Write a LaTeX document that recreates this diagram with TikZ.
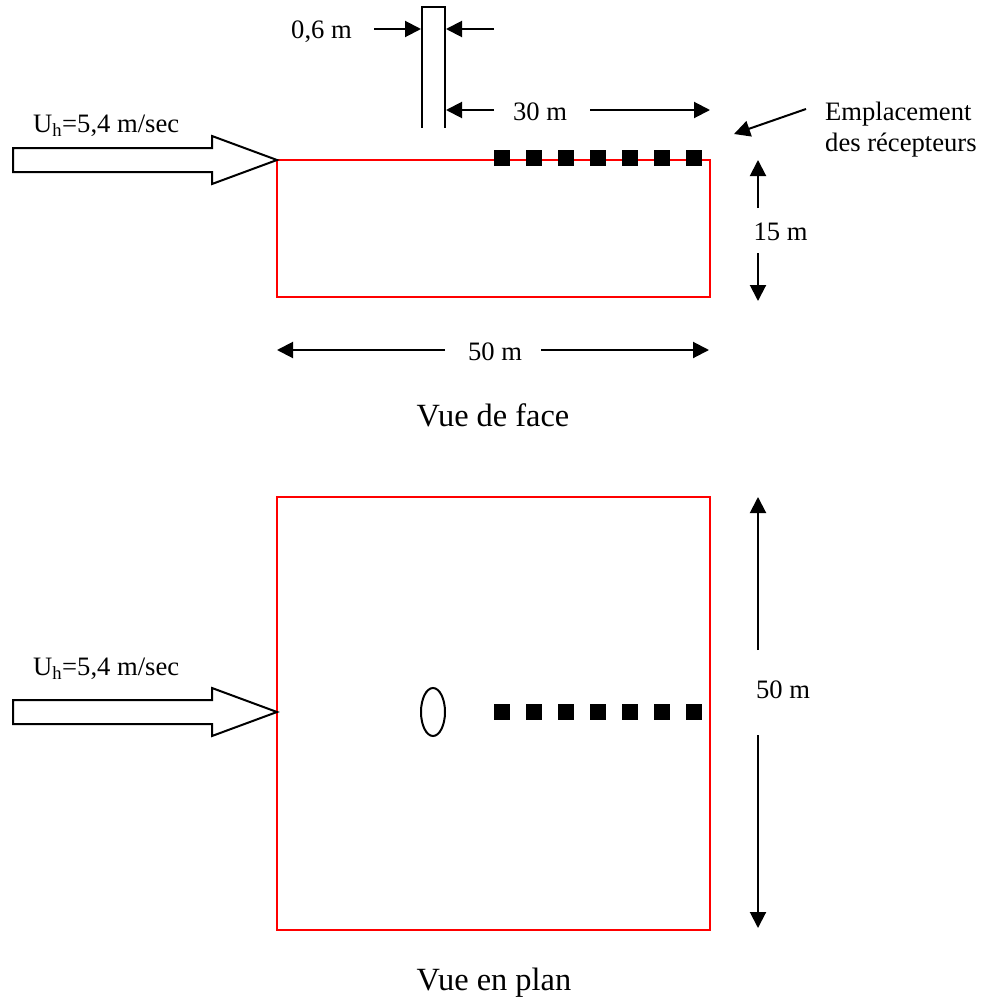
\documentclass[tikz,border=0pt]{standalone}
\usepackage{fontspec}
\setmainfont{Liberation Serif}
\usetikzlibrary{arrows.meta,shapes.geometric}
\tikzset{
  x=1pt,y=-1pt,
  lbl/.style={inner sep=0pt,anchor=base,font=\fontsize{26.6}{30}\selectfont},
  lbll/.style={inner sep=0pt,anchor=base west,font=\fontsize{26.6}{30}\selectfont},
  title/.style={inner sep=0pt,anchor=base,font=\fontsize{32.4}{36}\selectfont},
  dim/.style={draw=black,line width=2pt,-{Triangle[length=16pt,width=16pt]},shorten >=0pt},
  zone/.style={draw=red,line width=2pt},
  outline/.style={draw=black,line width=2pt},
  recv/.style={fill=black,minimum size=16pt,inner sep=0pt,draw=none,rectangle},
  pole/.style={draw=black,line width=2pt,ellipse,minimum width=24pt,minimum height=48pt,inner sep=0pt}
}
\newcommand{\flowarrow}[1]{%
  \draw[outline,line join=miter] (13,#1-12) -- (212,#1-12) -- (212,#1-24) -- (277,#1) -- (212,#1+24) -- (212,#1+12) -- (13,#1+12) -- cycle;}
\begin{document}
\begin{tikzpicture}
\useasboundingbox (0,0) rectangle (982,1001);
% coordinates
\coordinate (a1) at (374,29); \coordinate (a2) at (421,29);
\coordinate (b1) at (494,29); \coordinate (b2) at (446,29);
\coordinate (c1) at (494,110); \coordinate (c2) at (446,110);
\coordinate (d1) at (590,110); \coordinate (d2) at (710,110);
\coordinate (e1) at (806,109); \coordinate (e2) at (734,134);
\coordinate (f1) at (758,208); \coordinate (f2) at (758,160);
\coordinate (g1) at (758,253); \coordinate (g2) at (758,301);
\coordinate (h1) at (445,350); \coordinate (h2) at (277,350);
\coordinate (i1) at (541,350); \coordinate (i2) at (709,350);
\coordinate (j1) at (758,650); \coordinate (j2) at (758,497);
\coordinate (k1) at (758,735); \coordinate (k2) at (758,928);
% zones
\draw[zone] (277,160) rectangle (710,297);
\draw[zone] (277,497) rectangle (710,930);
% pole, front view
\draw[outline,line join=miter] (422,127.5) -- (422,7) -- (445,7) -- (445,127.5);
% pole, plan view
\node[pole] (polePlan) at (433,712) {};
% flow arrows
\flowarrow{160}
\flowarrow{712}
% receivers
\foreach \i in {0,...,6} {
  \node[recv] (rf\i) at (501.5+32*\i,158) {};
  \node[recv] (rp\i) at (501.5+32*\i,712) {};
}
% dimension arrows
\draw[dim] (a1) -- (a2);
\draw[dim] (b1) -- (b2);
\draw[dim] (c1) -- (c2);
\draw[dim] (d1) -- (d2);
\draw[dim] (e1) -- (e2);
\draw[dim] (f1) -- (f2);
\draw[dim] (g1) -- (g2);
\draw[dim] (h1) -- (h2);
\draw[dim] (i1) -- (i2);
\draw[dim] (j1) -- (j2);
\draw[dim] (k1) -- (k2);
% labels
\node[lbl] (t06) at (321.5,38.5) {0,6 m};
\node[lbl] (t30) at (540,120) {30 m};
\node[lbl] (t15) at (780.5,240) {15 m};
\node[lbl] (t50a) at (495,360) {50 m};
\node[lbl] (t50b) at (783,698) {50 m};
\node[lbll] (tE) at (825,120) {Emplacement};
\node[lbll] (tD) at (825,151) {des récepteurs};
\node[lbll] (tU1) at (33,132) {U\textsubscript{h}=5,4 m/sec};
\node[lbll] (tU2) at (33,675) {U\textsubscript{h}=5,4 m/sec};
\node[title] (tF) at (493,426) {Vue de face};
\node[title] (tP) at (494,990) {Vue en plan};
\end{tikzpicture}
\end{document}
